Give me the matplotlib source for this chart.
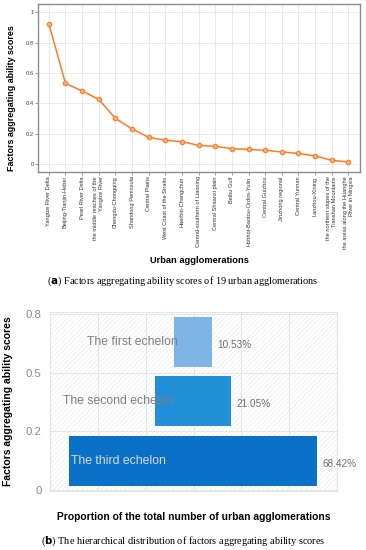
import matplotlib
matplotlib.use("Agg")
import matplotlib.pyplot as plt
from matplotlib.patches import Rectangle

plt.rcParams['font.family'] = ['Liberation Sans', 'DejaVu Sans']
plt.rcParams['hatch.linewidth'] = 0.4

# ---- data (top panel) ----
agglomerations = [
    "Yangtze River Delta", "Beijing-Tianjin-Hebei", "Pearl River Delta",
    "the middle reaches of the\nYangtze River", "Chengdu-Chongqing",
    "Shandong Peninsula", "Central Plains", "West Coast of the Straits",
    "Haerbin-Changchun", "Central-southern of Liaoning", "Central Shaanxi plain",
    "Beibu Gulf", "Hohhot-Baotou-Ordos-Yulin", "Central Guizhou",
    "Jinzhong regional", "Central Yunnan", "Lanzhou-Xining",
    "the northern slopes of the\nTianshan Mountains",
    "the areas along the Huanghe\nRiver in Ningxia",
]
scores = [0.925, 0.532, 0.481, 0.426, 0.301, 0.231, 0.176, 0.156, 0.147,
          0.123, 0.116, 0.101, 0.096, 0.090, 0.079, 0.070, 0.053, 0.024, 0.013]
top_yticks = [0, 0.2, 0.4, 0.6, 0.8, 1.0]
top_yticklabels = ["0", "0.2", "0.4", "0.6", "0.8", "1"]

# ---- data (bottom panel) ----
echelons = ["The third echelon", "The second echelon", "The first echelon"]
proportions = [68.42, 21.05, 10.53]
bottom_yticklabels = ["0", "0.2", "0.5", "0.8"]
bar_colors = ["#0B70C8", "#2190D9", "#7FB4E6"]

fig = plt.figure(figsize=(3.66, 5.5), dpi=100)

# ================= top panel =================
ax1 = fig.add_axes([38/366, 1-172.3/550, 322/366, 168.3/550])
x = list(range(len(agglomerations)))
ax1.plot(x, scores, color="#FF7A26", lw=1.1, marker="o", ms=3.2,
         mfc="#FFB27A", mec="#FF7A26", mew=0.8, zorder=3)
ax1.set_xlim(-0.65, 18.7)
ax1.set_ylim(-0.055, 1.055)
ax1.set_yticks(top_yticks)
ax1.set_yticklabels(top_yticklabels)
ax1.set_xticks(x)
ax1.set_xticklabels(agglomerations, rotation=90, ha="center", va="top",
                    multialignment="right", fontsize=4.1, color="#333333")
ax1.tick_params(axis="y", labelsize=4.2, labelcolor="#444444", length=2,
                width=0.5, color="#777777", pad=1)
ax1.tick_params(axis="x", length=2, width=0.5, color="#777777", pad=1)
ax1.grid(True, color="#E6E6E6", lw=0.6)
ax1.set_axisbelow(True)
for s in ax1.spines.values():
    s.set_color("#8C8C8C")
    s.set_linewidth(1.0)
ax1.set_ylabel("Factors aggregating ability scores", fontsize=6.4,
               fontweight="bold")
ax1.yaxis.set_label_coords(-0.068, 0.44)
ax1.set_xlabel("Urban agglomerations", fontsize=6.7, fontweight="bold",
               labelpad=5)

fig.text(183/366, 1-281/550,
         r"($\mathbf{a}$) Factors aggregating ability scores of 19 urban agglomerations",
         ha="center", va="center", fontsize=7.4, family="Liberation Serif")

# ================= bottom panel =================
ax2 = fig.add_axes([50/366, 1-490.7/550, 287/366, 179/550])
ypos = [0.5, 1.52, 2.53]
ax2.barh(ypos, proportions, left=[-p/2 for p in proportions], height=0.86,
         color=bar_colors, zorder=3)
ax2.set_xlim(-39.4, 39.8)
ax2.set_ylim(-0.012, 3.044)
ax2.set_yticks([0, 1, 2, 3])
ax2.set_yticklabels(bottom_yticklabels)
xl = ax2.get_xlim()
step = (xl[1]-xl[0])/6
ax2.set_xticks([xl[0]+i*step for i in range(7)])
ax2.set_xticklabels([])
ax2.tick_params(axis="both", length=0, labelsize=8.2, labelcolor="#8A8A8A",
                pad=6)
ax2.grid(True, color="#E2E2E2", lw=0.6, zorder=1)
ax2.set_axisbelow(True)
for s in ax2.spines.values():
    s.set_color("#E4E4E4")
    s.set_linewidth(0.8)
bg = Rectangle((0, 0), 1, 1, transform=ax2.transAxes, facecolor="white",
               edgecolor="#E6E6E6", hatch="///////", lw=0, zorder=0)
ax2.add_patch(bg)

label_x = [-33.6, -35.9, -29.1]
label_colors = ["#D9D9D9", "#7F7F7F", "#7F7F7F"]
for yv, lab, lx, c in zip(ypos, echelons, label_x, label_colors):
    ax2.text(lx, yv, lab, ha="left", va="center", fontsize=8.8, color=c,
             zorder=4)
for yv, p in zip(ypos, proportions):
    ax2.text(p/2 + 1.6, yv - 0.05, f"{p:.2f}%", ha="left", va="center",
             fontsize=7.2, color="#6E6E6E", zorder=4)

ax2.set_ylabel("Factors aggregating ability scores", fontsize=7.5,
               fontweight="bold")
ax2.yaxis.set_label_coords(-0.129, 0.5)
ax2.set_xlabel("Proportion of the total number of urban agglomerations",
               fontsize=7.4, fontweight="bold", labelpad=9)

fig.text(183/366, 1-541.7/550,
         r"($\mathbf{b}$) The hierarchical distribution of factors aggregating ability scores",
         ha="center", va="center", fontsize=7.4, family="Liberation Serif")

fig.savefig("out.png", dpi=100)
